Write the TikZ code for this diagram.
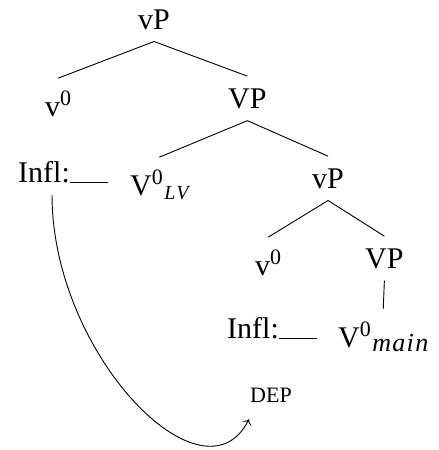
\documentclass[tikz,border=0pt]{standalone}
\usepackage{fontspec}
\setmainfont{Liberation Serif}
\usetikzlibrary{arrows.meta}

% head with superscript bar level, optional subscript
\newcommand{\hdsup}[2]{#1\raisebox{11pt}{\fontsize{22}{22}\selectfont #2}}
\newcommand{\hdsub}[3]{\kern1.5pt\raisebox{-4.5pt}{\fontsize{#1}{#1}\selectfont\itshape\addfontfeature{LetterSpace=#2}#3}}
\newcommand{\blank}{\rule[-0.8pt]{38pt}{1.2pt}}

\begin{document}
\begin{tikzpicture}[x=1pt, y=-1pt,
  font=\fontsize{30}{36}\selectfont,
  tnode/.style={inner xsep=0pt, inner ysep=12pt, anchor=base west},
  br/.style={line width=0.9pt},
  ar/.style={line width=0.9pt, -{To[length=5pt,width=10pt]}}]
\useasboundingbox (0,0) rectangle (439,450);
\node[tnode] (vP1)    at (138,29)  {vP};
\node[tnode] (v0a)    at (45,116)  {\hdsup{v}{0}};
\node[tnode] (VP1)    at (228,108) {VP};
\node[tnode] (infl1)  at (18,182)  {Infl:\blank};
\node[tnode] (V0lv)   at (130,195) {\hdsup{V}{0}\hdsub{20}{8}{LV}};
\node[tnode] (vP2)    at (312,188) {vP};
\node[tnode] (v0b)    at (255,275) {\hdsup{v}{0}};
\node[tnode] (VP2)    at (365,268) {VP};
\node[tnode] (infl2)  at (227,338) {Infl:\blank};
\node[tnode] (V0main) at (338,347) {\hdsup{V}{0}\hdsub{26}{5}{main}};
\node[tnode, font=\fontsize{22}{22}\selectfont] (dep) at (250,402) {DEP};
\foreach \a/\b in {vP1/v0a, vP1/VP1, VP1/V0lv, VP1/vP2, vP2/v0b, vP2/VP2, VP2/V0main}
  \draw[br] (\a.south) -- (\b.north);
\draw[ar] ([xshift=-11pt]infl1.south) .. controls +(0,160) and +(-45,90) .. ([xshift=-22pt,yshift=-5pt]dep.south);
\end{tikzpicture}
\end{document}
